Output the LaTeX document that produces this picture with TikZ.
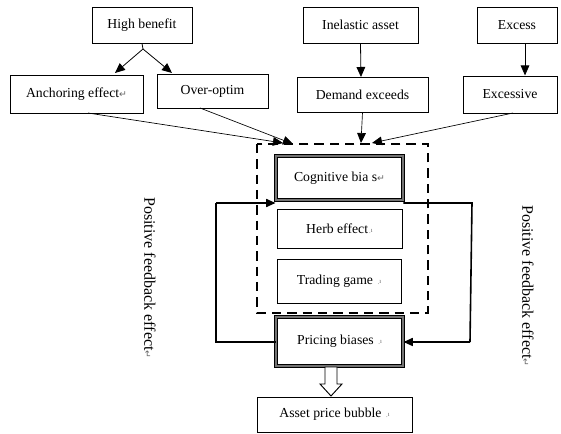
\documentclass[tikz,border=0pt]{standalone}
\usepackage{fontspec}
\setmainfont{Liberation Serif}
\newfontfamily\symfont{DejaVu Sans}
\usetikzlibrary{arrows.meta}
\newcommand{\rmark}{{\symfont\fontsize{7}{7}\selectfont\color{black!60}↵}}
\newcommand{\dmark}{{\fontsize{5}{5}\selectfont\color{black!60}\,.\raisebox{0.3ex}{\tiny ı}}}
\begin{document}
\begin{tikzpicture}[x=0.75pt,y=-0.75pt,
  box/.style={draw=black,line width=0.6pt,inner sep=0pt,font=\fontsize{10.3}{12}\selectfont},
  dbox/.style={draw=black,double=black!55,double distance=1.6pt,line width=0.7pt,inner sep=0pt,font=\fontsize{10.3}{12}\selectfont},
  arr/.style={-{Triangle[length=7.5pt,width=6.5pt]},line width=0.6pt},
  thin arr/.style={-{Triangle[length=7.5pt,width=6.5pt]},line width=0.5pt},
  loop/.style={line width=1.2pt},
  side/.style={rotate=-90,font=\fontsize{12}{14}\selectfont}]
\useasboundingbox (0,0) rectangle (561,434);
% top row
\node[box,minimum width=100pt*0.75,minimum height=36pt*0.75] (hb) at (142,25) {High benefit};
\node[box,minimum width=115pt*0.75,minimum height=36pt*0.75] (ia) at (360.5,25) {Inelastic asset};
\node[box,minimum width=80pt*0.75,minimum height=36pt*0.75] (ex) at (517,25) {Excess};
% second row
\node[box,minimum width=133pt*0.75,minimum height=38pt*0.75] (an) at (76.5,94) {Anchoring effect\rmark};
\node[box,minimum width=111pt*0.75,minimum height=34pt*0.75] (oo) at (212.5,91) {Over-optim};
\node[box,minimum width=131pt*0.75,minimum height=35pt*0.75] (de) at (362.5,94.5) {Demand exceeds};
\node[box,minimum width=94pt*0.75,minimum height=37pt*0.75] (xs) at (510,94.5) {Excessive};
% dashed container
\draw[dashed,dash pattern=on 7pt off 4.5pt,line width=1.3pt] (257,144) rectangle (428,313);
\coordinate (dtop1) at (283,143);
\coordinate (dtop2) at (293,144);
\coordinate (dtop3) at (361,143);
\coordinate (dtop4) at (372,143);
% inner boxes
\node[dbox,minimum width=127pt*0.75,minimum height=44pt*0.75] (cb) at (339.5,178) {Cognitive bia s\rmark};
\node[box,minimum width=125pt*0.75,minimum height=39pt*0.75] (he) at (339.5,228.5) {Herb effect\dmark};
\node[box,minimum width=124pt*0.75,minimum height=44pt*0.75] (tg) at (339,281) {Trading game \dmark};
\node[dbox,minimum width=127pt*0.75,minimum height=49pt*0.75] (pb) at (339.5,341.5) {Pricing biases \dmark};
\node[box,minimum width=155pt*0.75,minimum height=35pt*0.75] (ap) at (334.5,414.5) {Asset price bubble \dmark};
% arrows top
\coordinate (hbs) at (143,49);
\draw[line width=0.6pt] (hb.south) -- (hbs);
\draw[arr] (hbs) -- (115,73);
\draw[arr] (hbs) -- (172,73);
\draw[arr] (ia.south) -- (361,77);
\draw[arr] ([xshift=8*0.75pt]ex.south) -- ++(0,32);
% converging arrows
\draw[thin arr] (88,113) -- (dtop1);
\draw[thin arr] (200,108) -- (dtop2);
\draw[thin arr] (de.south) -- (dtop3);
\draw[thin arr] (513,113) -- (dtop4);
% feedback loops
\coordinate (lt) at (216,203);
\coordinate (lb) at (216,342);
\draw[loop] (pb.west |- lb) -- (lb) -- (lt);
\draw[loop,-{Triangle[length=7pt,width=6pt]}] (lt) -- (cb.west |- lt);
\coordinate (rt) at (472,203);
\coordinate (rb) at (470,342);
\draw[loop] (cb.east |- rt) -- (rt) -- (rb);
\draw[loop,-{Triangle[length=7pt,width=6pt]}] (rb) -- (pb.east |- rb);
% hollow arrow
\draw[line width=0.7pt,fill=white] (325,367) -- (337,367) -- (337,384) -- (342,384) -- (331,396) -- (320,384) -- (325,384) -- cycle;
% side labels
\node[side] (lfb) at (150,278) {Positive feedback effect\rmark};
\node[side] (rfb) at (528,286) {Positive feedback effect\rmark};
\end{tikzpicture}
\end{document}
